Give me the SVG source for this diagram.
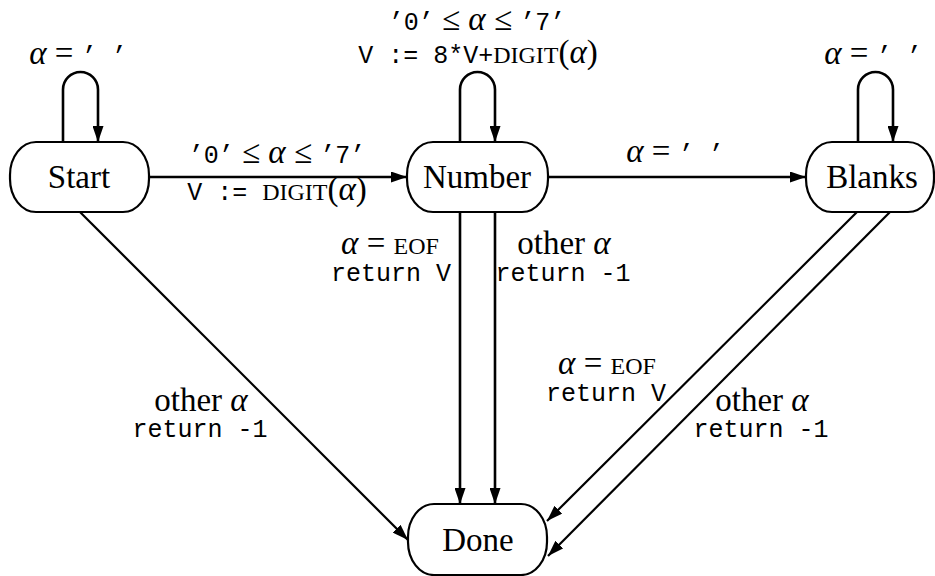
<svg xmlns="http://www.w3.org/2000/svg" width="935" height="576" viewBox="0 0 935 576">
<style>
.node rect{fill:#fff;stroke:#000;stroke-width:2.2}
text{font-family:"Liberation Serif",serif;font-size:33px;fill:#000;text-anchor:middle}
.tt{font-family:"Liberation Mono",monospace;font-size:25px}
.it{font-style:italic}
.sc{font-size:24px}
#edges path,#edges line{fill:none;stroke:#000;stroke-width:2.6}
#edges .d{stroke-width:2.2}
</style>
<defs>
<marker id="ah" viewBox="0 0 16 11" refX="16" refY="5.5" markerWidth="16" markerHeight="11" markerUnits="userSpaceOnUse" orient="auto">
<path d="M0,0 L16,5.5 L0,11 z" fill="#000"/>
</marker>
</defs>
<g id="edges">
<path d="M63,142 V89.5 A17.5,17.5 0 0 1 98,89.5 V142" marker-end="url(#ah)"/>
<path d="M460,142 V89.5 A17.5,17.5 0 0 1 495,89.5 V142" marker-end="url(#ah)"/>
<path d="M858,142 V89.5 A17.5,17.5 0 0 1 893,89.5 V142" marker-end="url(#ah)"/>
<line x1="149" y1="177" x2="407" y2="177" marker-end="url(#ah)"/>
<line x1="548" y1="177" x2="806" y2="177" marker-end="url(#ah)"/>
<line x1="460" y1="212" x2="460" y2="504" marker-end="url(#ah)"/>
<line x1="495" y1="212" x2="495" y2="504" marker-end="url(#ah)"/>
<line class="d" x1="80" y1="212" x2="408" y2="540" marker-end="url(#ah)"/>
<line class="d" x1="857" y1="212" x2="547" y2="521" marker-end="url(#ah)"/>
<line class="d" x1="890" y1="212" x2="548" y2="556" marker-end="url(#ah)"/>
</g>
<g id="start" class="node">
<rect x="10" y="142" width="139" height="70" rx="26" ry="33"/>
<text x="79" y="188">Start</text>
</g>
<g id="number" class="node">
<rect x="407" y="142" width="141" height="70" rx="26" ry="33"/>
<text x="477" y="188">Number</text>
</g>
<g id="blanks" class="node">
<rect x="806" y="142" width="128" height="70" rx="26" ry="33"/>
<text x="872" y="188">Blanks</text>
</g>
<g id="done" class="node">
<rect x="408" y="504" width="139" height="71" rx="26" ry="33"/>
<text x="478" y="551">Done</text>
</g>
<g id="labels">
<text x="78" y="64"><tspan class="it">α</tspan> = <tspan class="tt">’ ’</tspan></text>
<text x="477" y="30"><tspan class="tt">’0’</tspan> ≤ <tspan class="it">α</tspan> ≤ <tspan class="tt">’7’</tspan></text>
<text x="478" y="63"><tspan class="tt">V := 8*V+</tspan><tspan class="sc">DIGIT</tspan>(<tspan class="it">α</tspan>)</text>
<text x="873" y="64"><tspan class="it">α</tspan> = <tspan class="tt">’ ’</tspan></text>
<text x="277" y="163"><tspan class="tt">’0’</tspan> ≤ <tspan class="it">α</tspan> ≤ <tspan class="tt">’7’</tspan></text>
<text x="277" y="200"><tspan class="tt">V := </tspan><tspan class="sc">DIGIT</tspan>(<tspan class="it">α</tspan>)</text>
<text x="675" y="162"><tspan class="it">α</tspan> = <tspan class="tt">’ ’</tspan></text>
<text x="390" y="254"><tspan class="it">α</tspan> = <tspan class="sc">EOF</tspan></text>
<text x="391" y="281" class="tt">return V</text>
<text x="564" y="254">other <tspan class="it">α</tspan></text>
<text x="563" y="281" class="tt">return -1</text>
<text x="201" y="411">other <tspan class="it">α</tspan></text>
<text x="200" y="437" class="tt">return -1</text>
<text x="607" y="374"><tspan class="it">α</tspan> = <tspan class="sc">EOF</tspan></text>
<text x="606" y="401" class="tt">return V</text>
<text x="762" y="411">other <tspan class="it">α</tspan></text>
<text x="761" y="437" class="tt">return -1</text>
</g>
</svg>
